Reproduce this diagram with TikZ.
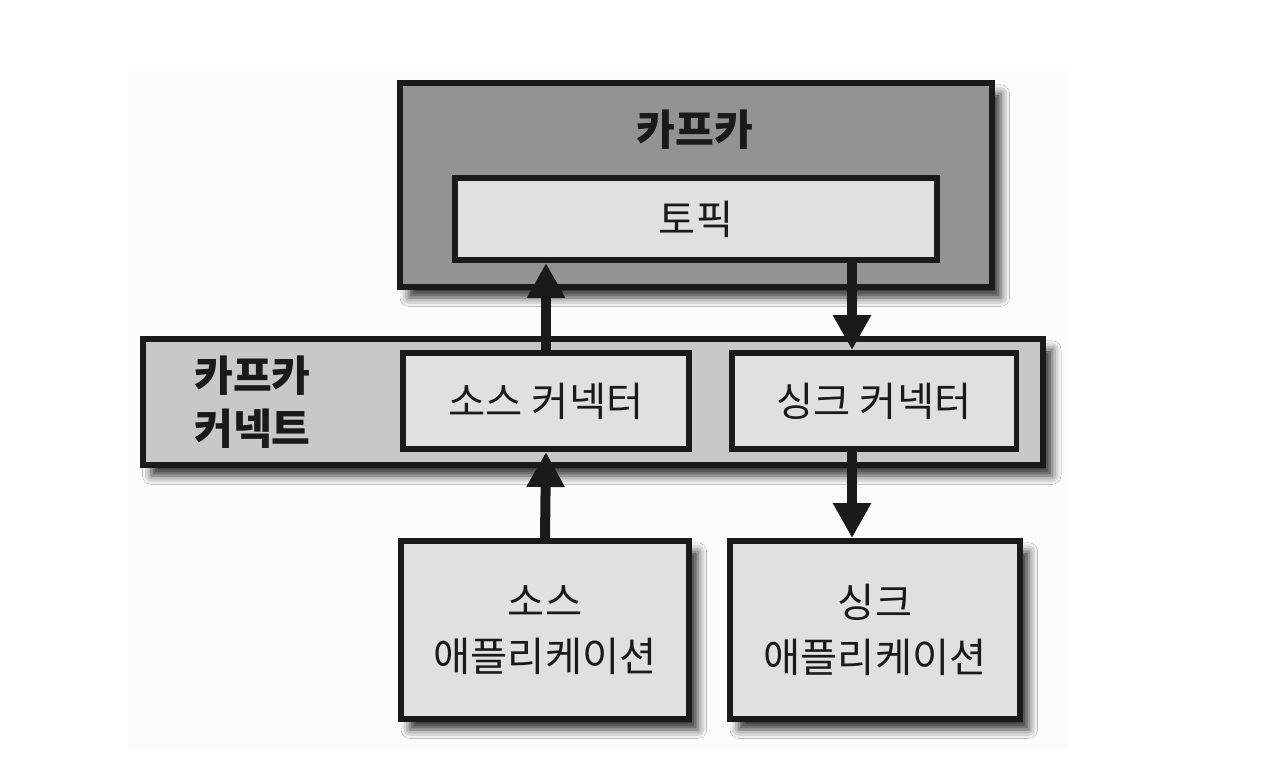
\documentclass[tikz,border=0pt]{standalone}
\usepackage{fontspec}
\setmainfont{Noto Sans CJK KR}
\usetikzlibrary{arrows.meta,shadows.blur}

\definecolor{boxline}{HTML}{1A1A1A}
\definecolor{kafkafill}{HTML}{939393}
\definecolor{connectfill}{HTML}{C8C8C8}
\definecolor{innerfill}{HTML}{E0E0E0}
\definecolor{paper}{HTML}{FCFCFC}

\begin{document}
\begin{tikzpicture}[
    x=0.02cm,
    y=-0.02cm,
    box/.style={
        rectangle,
        draw=boxline,
        line width=3.4pt,
        inner sep=0pt,
        text=boxline,
        },
    shadowed/.style={
        blur shadow={shadow xshift=5pt, shadow yshift=-6pt, shadow blur radius=5pt, shadow opacity=80},
        },
    title/.style={
        font=\fontsize{24}{30}\selectfont\bfseries,
        text=boxline,
        },
    mylabel/.style={
        font=\fontsize{23}{31}\selectfont,
        align=center,
        },
    ArrowC1/.style={
        line width=0.2cm,
        draw=boxline,
        -{Triangle[width=0.72cm, length=0.7cm]},
        },
    ]

    \useasboundingbox (0,0) rectangle (1266,766);
    \fill [paper] (128,71) rectangle (1069,750);

    % kafka cluster
    \node [box, shadowed, fill=kafkafill, minimum width=11.84cm, minimum height=4.08cm] (kafka) at (696,185) {};
    \node [title] (kafkatitle) at (695,130) {카프카};
    \node [box, mylabel, fill=innerfill, minimum width=9.64cm, minimum height=1.64cm] (topic) at (696,219) {토픽};

    % kafka connect
    \node [box, shadowed, fill=connectfill, minimum width=18.02cm, minimum height=2.52cm] (connect) at (593,402) {};
    \node [title, align=left, anchor=west] (connecttitle) at (188,402) {카프카\\커넥트};
    \node [box, mylabel, fill=innerfill, minimum width=5.72cm, minimum height=1.92cm] (srcconn) at (546,401) {소스 커넥터};
    \node [box, mylabel, fill=innerfill, minimum width=5.7cm, minimum height=1.92cm] (sinkconn) at (874,401) {싱크 커넥터};

    % applications
    \node [box, shadowed, mylabel, fill=innerfill, minimum width=5.76cm, minimum height=3.56cm] (srcapp) at (545,630) {소스\\애플리케이션};
    \node [box, shadowed, mylabel, fill=innerfill, minimum width=5.8cm, minimum height=3.56cm] (sinkapp) at (875,630) {싱크\\애플리케이션};

    \coordinate (sinkx) at (852,0);

    \draw [ArrowC1] (srcapp.north) -- (srcconn.south);
    \draw [ArrowC1] (srcconn.north) -- (topic.south -| srcconn.north);
    \draw [ArrowC1] (topic.south -| sinkx) -- (sinkconn.north -| sinkx);
    \draw [ArrowC1] (sinkconn.south -| sinkx) -- (sinkapp.north -| sinkx);

\end{tikzpicture}
\end{document}
